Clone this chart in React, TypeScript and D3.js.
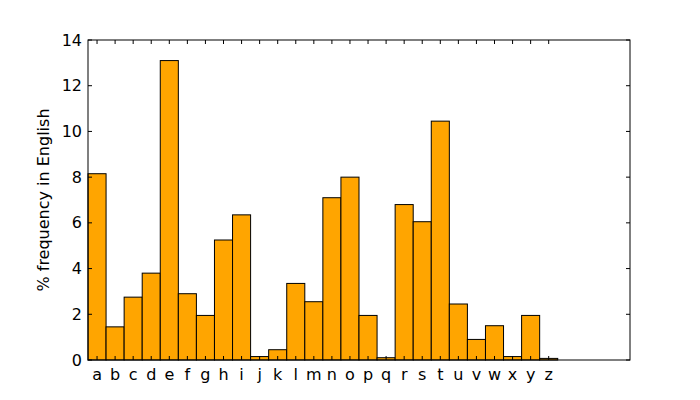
import React from 'react'
import * as d3 from 'd3'

const letters = 'abcdefghijklmnopqrstuvwxyz'.split('')
const freqs = [8.15, 1.45, 2.75, 3.8, 13.1, 2.9, 1.95, 5.25, 6.35, 0.15, 0.45, 3.35, 2.55,
    7.1, 8.0, 1.95, 0.1, 6.8, 6.05, 10.45, 2.45, 0.9, 1.5, 0.15, 1.95, 0.07]
const yTicks = [0, 2, 4, 6, 8, 10, 12, 14]

const W = 700, H = 400
const L = 88, R = 630, T = 40, B = 360

const App = () => {
    const x = d3.scaleLinear().domain([0, 30]).range([L, R])
    const y = d3.scaleLinear().domain([0, 14]).range([B, T])
    const font = 'DejaVu Sans, sans-serif'
    return (
        <svg width={W} height={H} style={{ position: 'absolute', left: 0, top: 0 }} fontFamily={font}>
            <rect width={W} height={H} fill="white" />
            {freqs.map((v, i) => (
                <rect key={i} x={x(i)} y={y(v)} width={x(i + 1) - x(i)} height={y(0) - y(v)}
                    fill="#FFA500" stroke="black" strokeWidth={1} />
            ))}
            {yTicks.map(t => (
                <g key={t}>
                    <line x1={L} x2={L + 4} y1={y(t)} y2={y(t)} stroke="black" />
                    <line x1={R} x2={R - 4} y1={y(t)} y2={y(t)} stroke="black" />
                    <text x={L - 6} y={y(t)} dy="0.35em" textAnchor="end" fontSize={16}>{t}</text>
                </g>
            ))}
            {letters.map((c, i) => (
                <g key={c}>
                    <line x1={x(i + 0.5)} x2={x(i + 0.5)} y1={B} y2={B - 4} stroke="black" />
                    <line x1={x(i + 0.5)} x2={x(i + 0.5)} y1={T} y2={T + 4} stroke="black" />
                    <text x={x(i + 0.5)} y={B + 20} textAnchor="middle" fontSize={16}>{c}</text>
                </g>
            ))}
            <rect x={L} y={T} width={R - L} height={B - T} fill="none" stroke="black" />
            <text transform={`translate(49,${(T + B) / 2}) rotate(-90)`} textAnchor="middle" fontSize={16}>
                % frequency in English
            </text>
        </svg>
    )
}

export default App
